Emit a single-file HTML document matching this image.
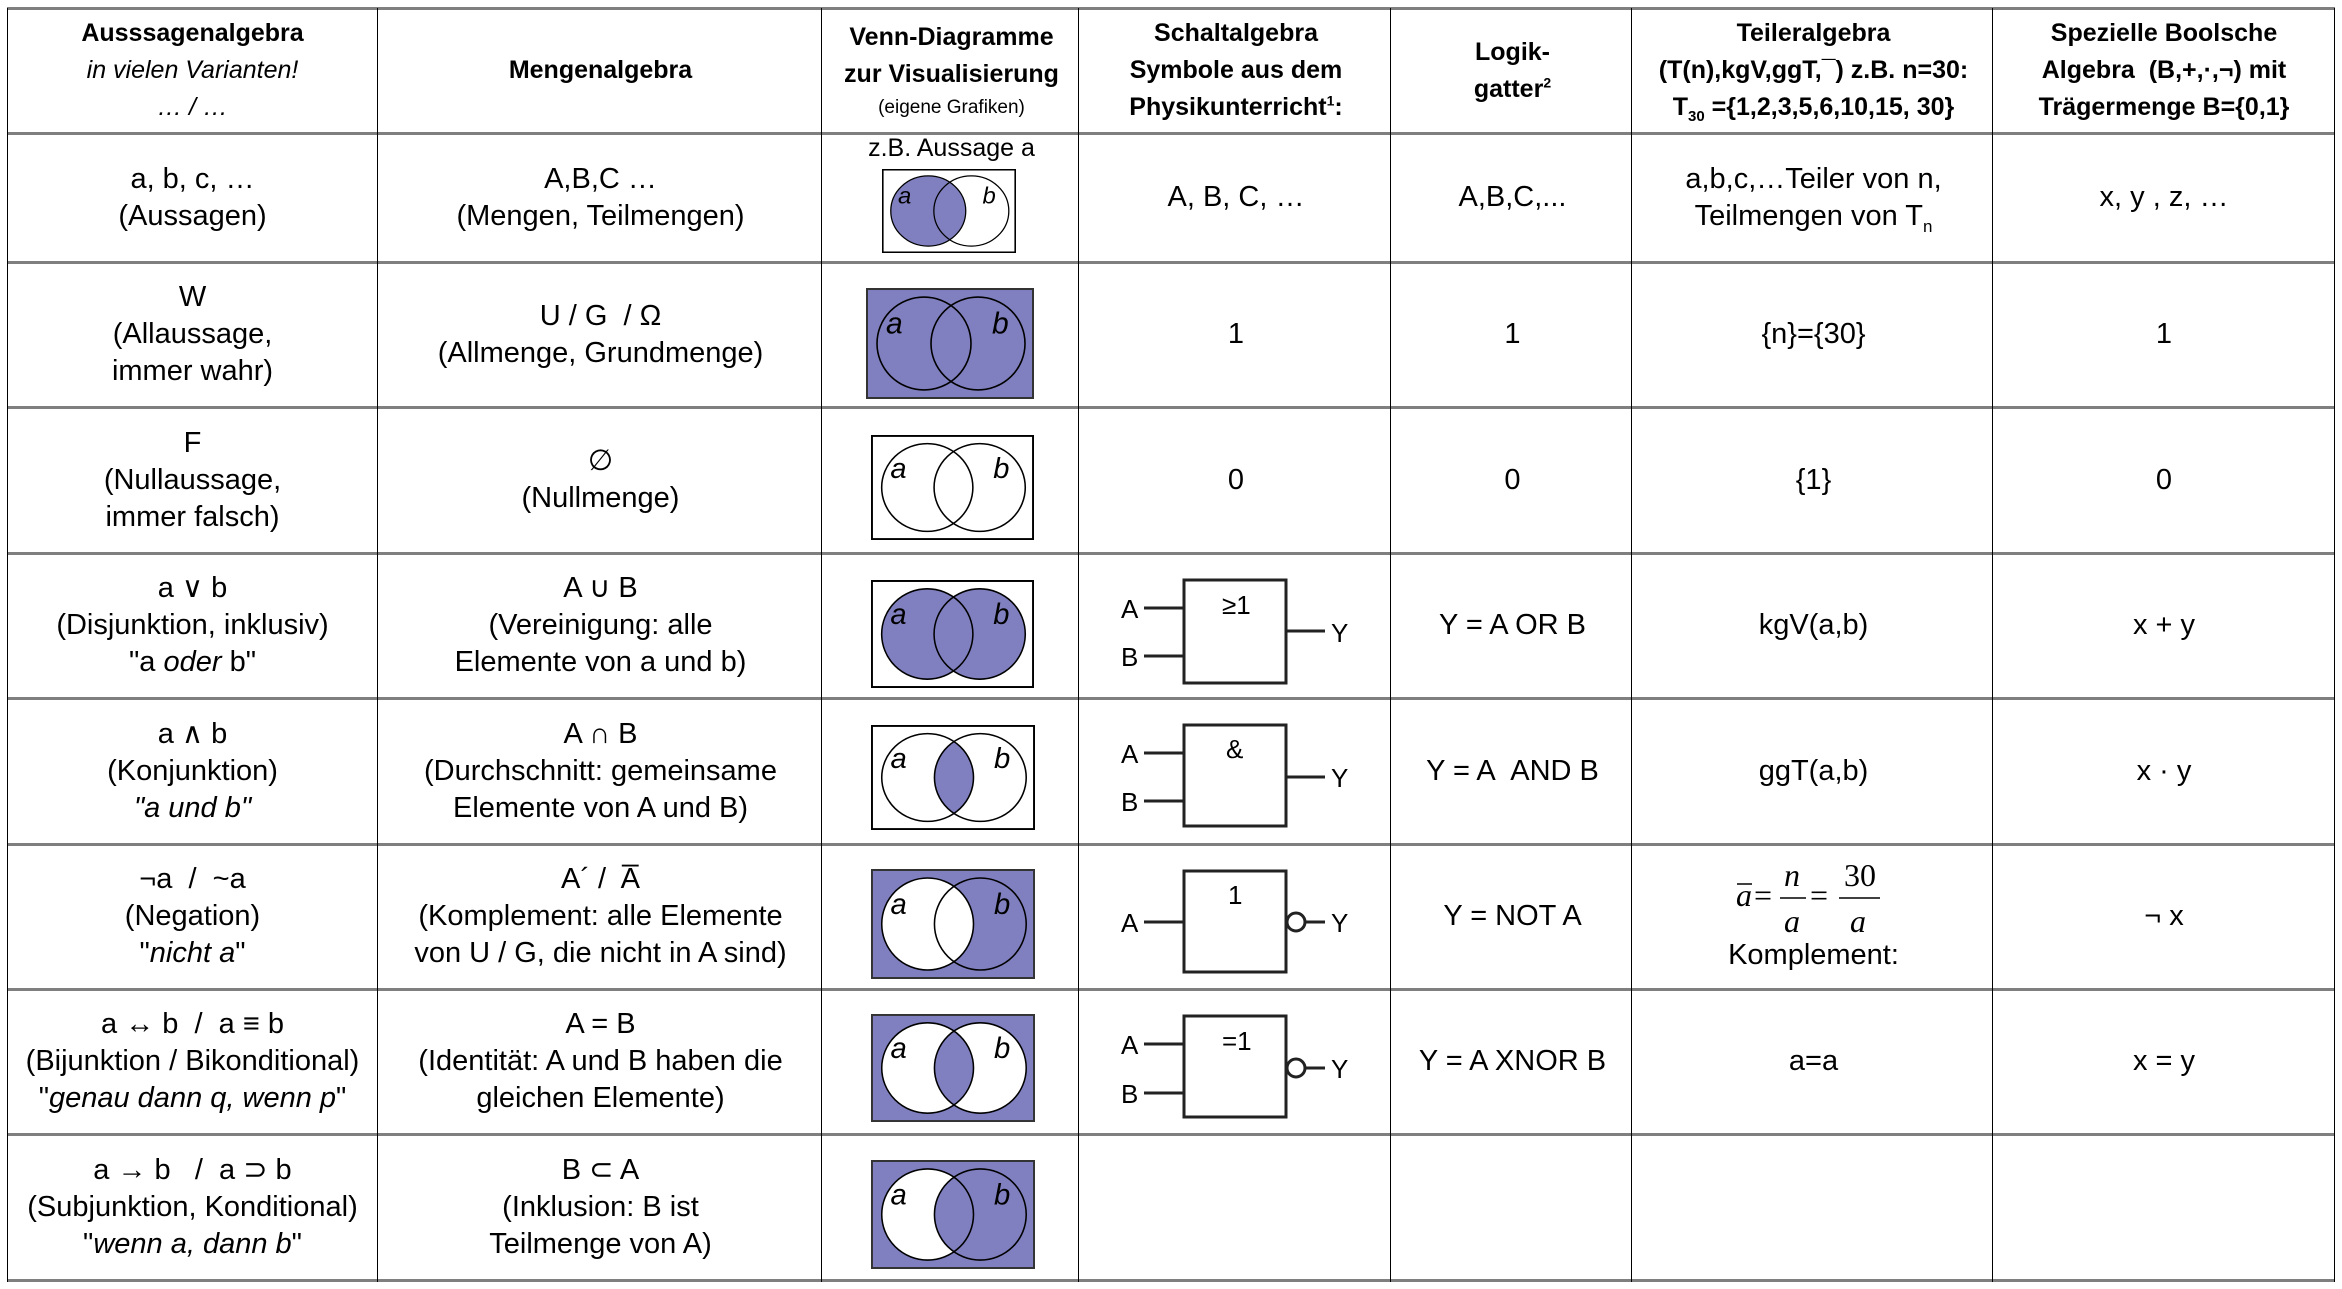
<!DOCTYPE html>
<html><head><meta charset="utf-8"><style>
body{margin:0;width:2342px;height:1289px;background:#fff;position:relative;overflow:hidden;font-family:"Liberation Sans",sans-serif;color:#000}
.c{position:absolute;display:flex;flex-direction:column;align-items:center;justify-content:center;text-align:center;font-size:29px;line-height:37px;white-space:nowrap}
.h{font-size:25px;line-height:37px;font-weight:bold}
.hl{position:absolute;left:7px;width:2328px;height:3px;background:#7f7f7f}
.vl{position:absolute;top:8px;height:1274px;width:1px;background:#000}
i{font-style:italic}
svg{position:absolute;left:0;top:0;overflow:visible}
</style></head><body>
<div class="hl" style="top:7px"></div>
<div class="hl" style="top:132px"></div>
<div class="hl" style="top:261px"></div>
<div class="hl" style="top:406px"></div>
<div class="hl" style="top:552px"></div>
<div class="hl" style="top:697px"></div>
<div class="hl" style="top:843px"></div>
<div class="hl" style="top:988px"></div>
<div class="hl" style="top:1133px"></div>
<div class="hl" style="top:1279px"></div>
<div class="vl" style="left:7px"></div>
<div class="vl" style="left:377px"></div>
<div class="vl" style="left:821px"></div>
<div class="vl" style="left:1078px"></div>
<div class="vl" style="left:1390px"></div>
<div class="vl" style="left:1631px"></div>
<div class="vl" style="left:1992px"></div>
<div class="vl" style="left:2334px"></div>

<!-- header -->
<div class="c h" style="left:7px;width:371px;top:8px;height:125px"><div>Ausssagenalgebra</div><div style="font-weight:normal;font-style:italic">in vielen Varianten!</div><div style="font-weight:normal;font-style:italic">… / …</div></div>
<div class="c h" style="left:378px;width:445px;top:8px;height:125px">Mengenalgebra</div>
<div class="c h" style="left:823px;width:257px;top:8px;height:125px"><div>Venn-Diagramme</div><div>zur Visualisierung</div><div style="font-weight:normal;font-size:19px;line-height:30px">(eigene Grafiken)</div></div>
<div class="c h" style="left:1080px;width:312px;top:8px;height:125px"><div>Schaltalgebra</div><div>Symbole aus dem</div><div>Physikunterricht<sup style="font-size:14px;line-height:0">1</sup>:</div></div>
<div class="c h" style="left:1392px;width:241px;top:8px;height:125px"><div>Logik-</div><div>gatter<sup style="font-size:14px;line-height:0">2</sup></div></div>
<div class="c h" style="left:1633px;width:361px;top:8px;height:125px"><div>Teileralgebra</div><div>(T(n),kgV,ggT,¯) z.B. n=30:</div><div>T<sub style="font-size:15px;line-height:0">30</sub> ={1,2,3,5,6,10,15, 30}</div></div>
<div class="c h" style="left:1994px;width:340px;top:8px;height:125px"><div>Spezielle Boolsche</div><div>Algebra&nbsp; (B,+,·,¬) mit</div><div>Trägermenge B={0,1}</div></div>

<!-- row1 -->
<div class="c" style="left:7px;width:371px;top:133px;height:129px"><div>a, b, c, …</div><div>(Aussagen)</div></div>
<div class="c" style="left:378px;width:445px;top:133px;height:129px"><div>A,B,C …</div><div>(Mengen, Teilmengen)</div></div>
<div class="c" style="left:823px;width:257px;top:133px;height:30px;font-size:25px">z.B. Aussage a</div>
<div class="c" style="left:1080px;width:312px;top:133px;height:129px">A, B, C, …</div>
<div class="c" style="left:1392px;width:241px;top:133px;height:129px">A,B,C,...</div>
<div class="c" style="left:1633px;width:361px;top:133px;height:129px"><div>a,b,c,…Teiler von n,</div><div>Teilmengen von T<sub style="font-size:17px;line-height:0">n</sub></div></div>
<div class="c" style="left:1994px;width:340px;top:133px;height:129px">x, y , z, …</div>
<!-- row2 -->
<div class="c" style="left:7px;width:371px;top:262px;height:145px"><div>W</div><div>(Allaussage,</div><div>immer wahr)</div></div>
<div class="c" style="left:378px;width:445px;top:262px;height:145px"><div>U / G&nbsp; / Ω</div><div>(Allmenge, Grundmenge)</div></div>
<div class="c" style="left:1080px;width:312px;top:262px;height:145px">1</div>
<div class="c" style="left:1392px;width:241px;top:262px;height:145px">1</div>
<div class="c" style="left:1633px;width:361px;top:262px;height:145px">{n}={30}</div>
<div class="c" style="left:1994px;width:340px;top:262px;height:145px">1</div>
<!-- row3 -->
<div class="c" style="left:7px;width:371px;top:407px;height:146px"><div>F</div><div>(Nullaussage,</div><div>immer falsch)</div></div>
<div class="c" style="left:378px;width:445px;top:407px;height:146px"><div>∅</div><div>(Nullmenge)</div></div>
<div class="c" style="left:1080px;width:312px;top:407px;height:146px">0</div>
<div class="c" style="left:1392px;width:241px;top:407px;height:146px">0</div>
<div class="c" style="left:1633px;width:361px;top:407px;height:146px">{1}</div>
<div class="c" style="left:1994px;width:340px;top:407px;height:146px">0</div>
<!-- row4 -->
<div class="c" style="left:7px;width:371px;top:553px;height:145px"><div>a ∨ b</div><div>(Disjunktion, inklusiv)</div><div>"a <i>oder</i> b"</div></div>
<div class="c" style="left:378px;width:445px;top:553px;height:145px"><div>A ∪ B</div><div>(Vereinigung: alle</div><div>Elemente von a und b)</div></div>
<div class="c" style="left:1392px;width:241px;top:553px;height:145px">Y = A OR B</div>
<div class="c" style="left:1633px;width:361px;top:553px;height:145px">kgV(a,b)</div>
<div class="c" style="left:1994px;width:340px;top:553px;height:145px">x + y</div>
<!-- row5 -->
<div class="c" style="left:7px;width:371px;top:698px;height:146px"><div>a ∧ b</div><div>(Konjunktion)</div><div><i>"a und b"</i></div></div>
<div class="c" style="left:378px;width:445px;top:698px;height:146px"><div>A ∩ B</div><div>(Durchschnitt: gemeinsame</div><div>Elemente von A und B)</div></div>
<div class="c" style="left:1392px;width:241px;top:698px;height:146px">Y = A&nbsp; AND B</div>
<div class="c" style="left:1633px;width:361px;top:698px;height:146px">ggT(a,b)</div>
<div class="c" style="left:1994px;width:340px;top:698px;height:146px">x · y</div>
<!-- row6 -->
<div class="c" style="left:7px;width:371px;top:844px;height:145px"><div>¬a&nbsp; /&nbsp; ~a</div><div>(Negation)</div><div>"<i>nicht a</i>"</div></div>
<div class="c" style="left:378px;width:445px;top:844px;height:145px"><div>A´ /&nbsp; A̅</div><div>(Komplement: alle Elemente</div><div>von U / G, die nicht in A sind)</div></div>
<div class="c" style="left:1392px;width:241px;top:844px;height:145px">Y = NOT A</div>
<div class="c" style="left:1633px;width:361px;top:930px;height:50px">Komplement:</div>
<div class="c" style="left:1994px;width:340px;top:844px;height:145px">¬ x</div>
<!-- row7 -->
<div class="c" style="left:7px;width:371px;top:989px;height:145px"><div>a ↔ b&nbsp; /&nbsp; a ≡ b</div><div>(Bijunktion / Bikonditional)</div><div>"<i>genau dann q, wenn p</i>"</div></div>
<div class="c" style="left:378px;width:445px;top:989px;height:145px"><div>A = B</div><div>(Identität: A und B haben die</div><div>gleichen Elemente)</div></div>
<div class="c" style="left:1392px;width:241px;top:989px;height:145px">Y = A XNOR B</div>
<div class="c" style="left:1633px;width:361px;top:989px;height:145px">a=a</div>
<div class="c" style="left:1994px;width:340px;top:989px;height:145px">x = y</div>
<!-- row8 -->
<div class="c" style="left:7px;width:371px;top:1134px;height:146px"><div>a → b&nbsp;&nbsp; /&nbsp; a ⊃ b</div><div>(Subjunktion, Konditional)</div><div>"<i>wenn a, dann b</i>"</div></div>
<div class="c" style="left:378px;width:445px;top:1134px;height:146px"><div>B ⊂ A</div><div>(Inklusion: B ist</div><div>Teilmenge von A)</div></div>

<svg width="2342" height="1289" viewBox="0 0 2342 1289">
<defs>
<clipPath id="ca"><ellipse cx="58" cy="55" rx="47" ry="46"/></clipPath>
<g id="circ" fill="none" stroke="#000" stroke-width="1.6">
<ellipse cx="58" cy="55" rx="47" ry="46"/><ellipse cx="112" cy="55" rx="47" ry="46"/>
</g>
<g id="lab" font-family="Liberation Sans" font-style="italic" font-size="30" fill="#000">
<text x="20" y="45">a</text><text x="126" y="45">b</text></g>
</defs>
<g fill="#8080c0">
<!-- row1 -->
<svg x="882" y="169" width="134" height="84" viewBox="0 0 168 110" preserveAspectRatio="none">
<rect x="1" y="1" width="166" height="108" fill="#fff" stroke="#000" stroke-width="2"/>
<ellipse cx="58" cy="55" rx="47" ry="46"/><use href="#circ"/><use href="#lab"/></svg>
<!-- row2 -->
<svg x="866" y="288" width="168" height="111" viewBox="0 0 168 110" preserveAspectRatio="none">
<rect x="1" y="1" width="166" height="108" stroke="#333" stroke-width="2"/><use href="#circ"/><use href="#lab"/></svg>
<!-- row3 -->
<svg x="871" y="435" width="163" height="105" viewBox="0 0 168 110" preserveAspectRatio="none">
<rect x="1" y="1" width="166" height="108" fill="#fff" stroke="#000" stroke-width="2"/><use href="#circ"/><use href="#lab"/></svg>
<!-- row4 -->
<svg x="871" y="580" width="163" height="108" viewBox="0 0 168 110" preserveAspectRatio="none">
<rect x="1" y="1" width="166" height="108" fill="#fff" stroke="#000" stroke-width="2"/>
<ellipse cx="58" cy="55" rx="47" ry="46"/><ellipse cx="112" cy="55" rx="47" ry="46"/><use href="#circ"/><use href="#lab"/></svg>
<!-- row5 -->
<svg x="871" y="725" width="164" height="105" viewBox="0 0 168 110" preserveAspectRatio="none">
<rect x="1" y="1" width="166" height="108" fill="#fff" stroke="#000" stroke-width="2"/>
<ellipse cx="112" cy="55" rx="47" ry="46" clip-path="url(#ca)"/><use href="#circ"/><use href="#lab"/></svg>
<!-- row6 -->
<svg x="871" y="869" width="164" height="110" viewBox="0 0 168 110" preserveAspectRatio="none">
<rect x="1" y="1" width="166" height="108" stroke="#333" stroke-width="2"/>
<ellipse cx="58" cy="55" rx="47" ry="46" fill="#fff"/><use href="#circ"/><use href="#lab"/></svg>
<!-- row7 -->
<svg x="871" y="1014" width="164" height="108" viewBox="0 0 168 110" preserveAspectRatio="none">
<rect x="1" y="1" width="166" height="108" stroke="#333" stroke-width="2"/>
<ellipse cx="58" cy="55" rx="47" ry="46" fill="#fff"/><ellipse cx="112" cy="55" rx="47" ry="46" fill="#fff"/>
<ellipse cx="112" cy="55" rx="47" ry="46" clip-path="url(#ca)"/><use href="#circ"/><use href="#lab"/></svg>
<!-- row8 -->
<svg x="871" y="1160" width="164" height="109" viewBox="0 0 168 110" preserveAspectRatio="none">
<rect x="1" y="1" width="166" height="108" stroke="#333" stroke-width="2"/>
<ellipse cx="58" cy="55" rx="47" ry="46" fill="#fff"/><ellipse cx="112" cy="55" rx="47" ry="46"/><use href="#circ"/><use href="#lab"/></svg>
</g>

<!-- gates -->
<g stroke="#222" stroke-width="3" fill="none">
<rect x="1184" y="580" width="102" height="103"/>
<line x1="1144" y1="608" x2="1184" y2="608"/><line x1="1144" y1="656" x2="1184" y2="656"/><line x1="1286" y1="631" x2="1325" y2="631"/>
<rect x="1184" y="725" width="102" height="101"/>
<line x1="1144" y1="753" x2="1184" y2="753"/><line x1="1144" y1="801" x2="1184" y2="801"/><line x1="1286" y1="777" x2="1325" y2="777"/>
<rect x="1184" y="871" width="102" height="101"/>
<line x1="1144" y1="922" x2="1184" y2="922"/><circle cx="1296" cy="922" r="9"/><line x1="1305" y1="922" x2="1325" y2="922"/>
<rect x="1184" y="1016" width="102" height="101"/>
<line x1="1144" y1="1044" x2="1184" y2="1044"/><line x1="1144" y1="1093" x2="1184" y2="1093"/><circle cx="1296" cy="1068" r="9"/><line x1="1305" y1="1068" x2="1325" y2="1068"/>
</g>
<g font-family="Liberation Sans" font-size="26" fill="#000">
<text x="1121" y="618">A</text><text x="1121" y="666">B</text><text x="1331" y="642">Y</text><text x="1222" y="614">≥1</text>
<text x="1121" y="763">A</text><text x="1121" y="811">B</text><text x="1331" y="787">Y</text><text x="1226" y="758">&amp;</text>
<text x="1121" y="932">A</text><text x="1331" y="932">Y</text><text x="1228" y="904">1</text>
<text x="1121" y="1054">A</text><text x="1121" y="1103">B</text><text x="1331" y="1078">Y</text><text x="1222" y="1050">=1</text>
</g>
<!-- fraction -->
<g font-family="Liberation Serif" font-style="italic" font-size="32" fill="#000">
<text x="1736" y="906">a</text><line x1="1737" y1="884" x2="1752" y2="884" stroke="#000" stroke-width="1.5"/>
<text x="1754" y="906" font-style="normal">=</text>
<text x="1784" y="886">n</text><line x1="1780" y1="898" x2="1806" y2="898" stroke="#000" stroke-width="1.5"/><text x="1784" y="932">a</text>
<text x="1810" y="906" font-style="normal">=</text>
<text x="1844" y="886" font-style="normal">30</text><line x1="1839" y1="898" x2="1880" y2="898" stroke="#000" stroke-width="1.5"/><text x="1850" y="932">a</text>
</g>
</svg>
</body></html>
